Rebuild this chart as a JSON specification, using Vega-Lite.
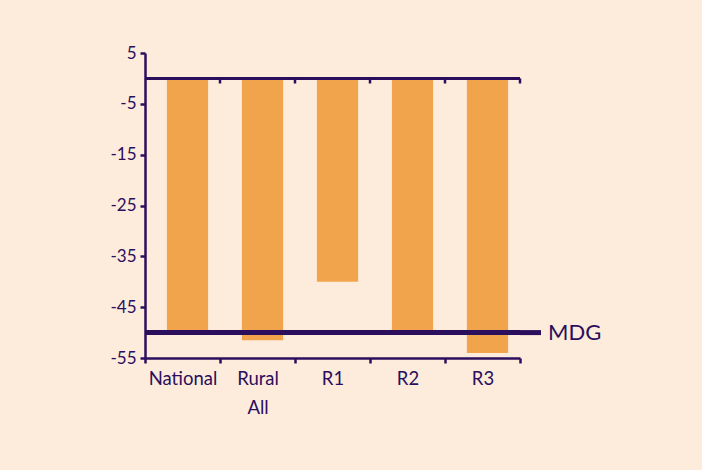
{
  "$schema": "https://vega.github.io/schema/vega-lite/v6.json",
  "width": 375,
  "height": 305,
  "autosize": "none",
  "padding": {"left": 145, "top": 53, "right": 182, "bottom": 112},
  "background": "#fdecdc",
  "config": {"view": {"stroke": null}, "font": "Lato"},
  "data": {"values": [
    {"region": "National", "change": -50},
    {"region": "Rural All", "change": -51.5},
    {"region": "R1", "change": -40},
    {"region": "R2", "change": -50},
    {"region": "R3", "change": -54}
  ]},
  "layer": [
    {
      "mark": {"type": "bar", "color": "#f2a44c", "width": {"band": 0.55}, "xOffset": 5},
      "encoding": {
        "x": {
          "field": "region", "type": "nominal", "sort": null,
          "scale": {"paddingInner": 0, "paddingOuter": 0},
          "axis": {
            "title": null, "labelAngle": 0, "tickBand": "extent",
            "tickSize": 5, "tickWidth": 2.5, "tickColor": "#2b0f5c",
            "domainWidth": 2.5, "domainColor": "#2b0f5c",
            "labelColor": "#2b0f5c", "labelFontSize": 18.5, "labelPadding": 6,
            "labelLineHeight": 29, "labelExpr": "split(datum.label, ' ')"
          }
        },
        "y": {
          "field": "change", "type": "quantitative",
          "scale": {"domain": [-55, 5], "nice": false, "zero": false},
          "axis": {
            "title": null, "grid": false, "orient": "left",
            "values": [5, -5, -15, -25, -35, -45, -55],
            "tickSize": 5, "tickWidth": 2.5, "tickColor": "#2b0f5c",
            "domainWidth": 2.5, "domainColor": "#2b0f5c",
            "labelColor": "#2b0f5c", "labelFontSize": 17, "labelPadding": 4,
            "labelExpr": "datum.value < 0 ? '-' + abs(datum.value) : '' + datum.value"
          }
        }
      }
    },
    {
      "data": {"values": [{"level": 0}]},
      "mark": {"type": "rule", "color": "#2b0f5c", "strokeWidth": 3},
      "encoding": {
        "y": {"field": "level", "type": "quantitative", "scale": {"domain": [-55, 5], "nice": false, "zero": false}, "axis": null}
      }
    },
    {
      "mark": {"type": "rule", "color": "#2b0f5c", "strokeWidth": 2.5},
      "encoding": {
        "x": {"field": "region", "type": "nominal", "sort": null, "bandPosition": 1},
        "y": {"datum": 0, "type": "quantitative", "scale": {"domain": [-55, 5], "nice": false, "zero": false}, "axis": null},
        "y2": {"datum": -1}
      }
    },
    {
      "data": {"values": [{"target": -50}]},
      "mark": {"type": "rule", "color": "#2b0f5c", "strokeWidth": 5},
      "encoding": {
        "y": {
          "field": "target", "type": "quantitative",
          "scale": {"domain": [-55, 5], "nice": false, "zero": false},
          "axis": {
            "orient": "right", "title": null, "grid": false, "domain": false,
            "values": [-50], "labelExpr": "'MDG'", "translate": 0, "tickRound": false,
            "tickSize": 21, "tickWidth": 5, "tickColor": "#2b0f5c",
            "labelColor": "#2b0f5c", "labelFontSize": 22, "labelPadding": 7
          }
        }
      }
    }
  ],
  "resolve": {"axis": {"y": "independent"}}
}
